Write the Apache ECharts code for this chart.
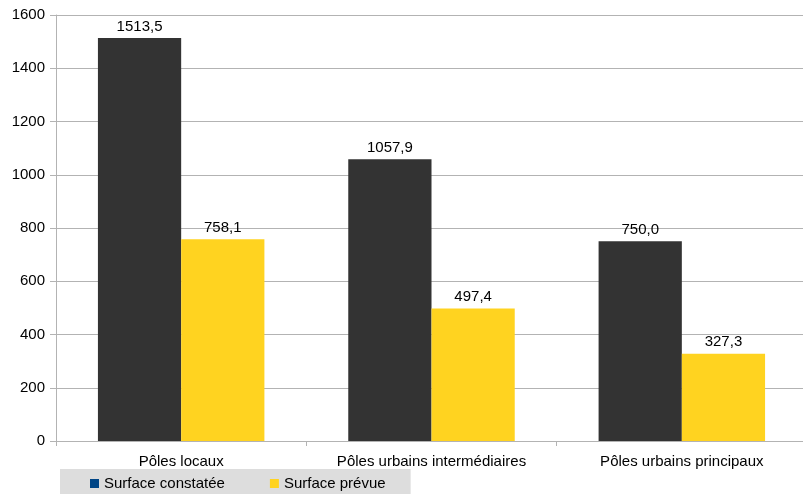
<!DOCTYPE html>
<html>
<head>
<meta charset="utf-8">
<script src="https://cdn.jsdelivr.net/npm/echarts@6/dist/echarts.min.js"></script>
<style>
  html, body { margin: 0; padding: 0; background: #fff; }
  #chart { width: 803px; height: 494px; }
</style>
</head>
<body>
<div id="chart"></div>
<script>
const categories = ['Pôles locaux', 'Pôles urbains intermédiaires', 'Pôles urbains principaux']
const surfaceConstatee = [1513.5, 1057.9, 750.0]
const surfacePrevue = [758.1, 497.4, 327.3]

const fmt = p => p.value.toFixed(1).replace('.', ',')
const labelStyle = { show: true, position: 'top', formatter: fmt, color: '#000', fontSize: 15, fontFamily: 'Liberation Sans', distance: 4 }

const chart = echarts.init(document.getElementById('chart'), null, { renderer: 'canvas' })
chart.setOption({
  animation: false,
  textStyle: { fontFamily: 'Liberation Sans' },
  grid: { left: 56, right: -4, top: 15, bottom: 53, outerBoundsMode: 'none' },
  legend: {
    left: 60,
    top: 469,
    padding: [7, 25, 10, 30],
    itemGap: 45,
    itemWidth: 9,
    itemHeight: 9,
    icon: 'rect',
    backgroundColor: '#dddddd',
    textStyle: { color: '#000', fontSize: 15, fontFamily: 'Liberation Sans' },
    data: [
      { name: 'Surface constatée', itemStyle: { color: '#004586' } },
      { name: 'Surface prévue', itemStyle: { color: '#ffd320' } }
    ]
  },
  xAxis: {
    type: 'category',
    data: categories,
    axisLine: { lineStyle: { color: '#b3b3b3' } },
    axisTick: { show: true, length: 5, lineStyle: { color: '#b3b3b3' } },
    axisLabel: { color: '#000', fontSize: 15, margin: 13 }
  },
  yAxis: {
    type: 'value',
    min: 0,
    max: 1600,
    interval: 200,
    axisLine: { show: true, lineStyle: { color: '#b3b3b3' } },
    axisTick: { show: true, length: 6, lineStyle: { color: '#b3b3b3' } },
    axisLabel: { color: '#000', fontSize: 15, margin: 11, formatter: v => String(v) },
    splitLine: { lineStyle: { color: '#b3b3b3' } }
  },
  series: [
    {
      name: 'Surface constatée',
      type: 'bar',
      data: surfaceConstatee,
      itemStyle: { color: '#333333' },
      barGap: '0%',
      barCategoryGap: '33.5%',
      label: labelStyle
    },
    {
      name: 'Surface prévue',
      type: 'bar',
      data: surfacePrevue,
      itemStyle: { color: '#ffd320' },
      label: labelStyle
    }
  ]
})
</script>
</body>
</html>
